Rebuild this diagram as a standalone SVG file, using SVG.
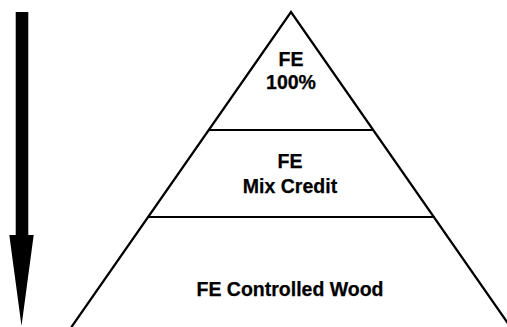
<svg xmlns="http://www.w3.org/2000/svg" width="507" height="327" viewBox="0 0 507 327">
<style>
.edge{stroke:#000;stroke-width:2.2;fill:none;stroke-linecap:round}
.lbl{font-family:"Liberation Sans",Arial,sans-serif;font-weight:bold;font-size:19.5px;fill:#000;stroke:#000;stroke-width:0.25;text-anchor:middle}
</style>
<rect width="507" height="327" fill="#fff"/>
<g id="pyramid">
<path class="edge" d="M71.5,327 L291,12 L510.5,327"/>
</g>
<g id="tier-top">
<text class="lbl" x="291" y="66">FE</text>
<text class="lbl" x="291" y="89">100%</text>
</g>
<g id="tier-middle">
<line class="edge" x1="209" y1="130" x2="373" y2="130"/>
<text class="lbl" x="290" y="168">FE</text>
<text class="lbl" x="290" y="193">Mix Credit</text>
</g>
<g id="tier-bottom">
<line class="edge" x1="148" y1="217" x2="434" y2="217"/>
<text class="lbl" x="290" y="296">FE Controlled Wood</text>
</g>
<g id="connectors">
<path d="M15.7,12 H28.3 V235 H33.7 L21.5,326 L9.3,235 H15.7 Z" fill="#000"/>
</g>
</svg>
